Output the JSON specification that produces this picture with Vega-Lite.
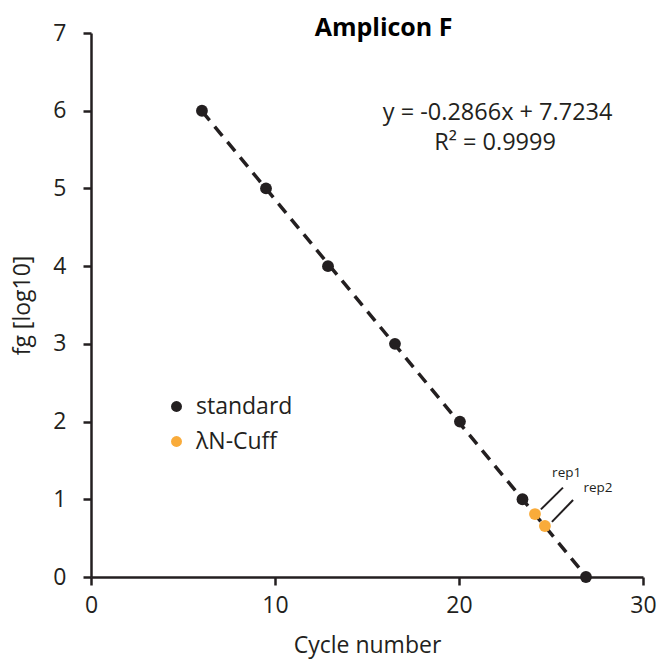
{
  "$schema": "https://vega.github.io/schema/vega-lite/v6.json",
  "autosize": {"type": "none"},
  "width": 552,
  "height": 544,
  "padding": {"left": 91, "top": 33, "right": 17, "bottom": 87},
  "background": "white",
  "config": {
    "view": {"stroke": null},
    "font": "Open Sans",
    "axis": {
      "grid": false,
      "domainColor": "#231f20",
      "domainWidth": 2.5,
      "tickColor": "#231f20",
      "tickWidth": 2.5,
      "tickSize": 8,
      "labelFont": "Open Sans",
      "labelFontSize": 23,
      "labelColor": "#231f20",
      "labelFlush": false,
      "labelOverlap": false,
      "titleFont": "Open Sans",
      "titleFontSize": 23,
      "titleFontWeight": "normal",
      "titleColor": "#231f20"
    }
  },
  "datasets": {
    "points": [
      {"cycle": 6.03, "fg": 6, "sample": "standard"},
      {"cycle": 9.51, "fg": 5, "sample": "standard"},
      {"cycle": 12.88, "fg": 4, "sample": "standard"},
      {"cycle": 16.52, "fg": 3, "sample": "standard"},
      {"cycle": 20.05, "fg": 2, "sample": "standard"},
      {"cycle": 23.45, "fg": 1, "sample": "standard"},
      {"cycle": 26.9, "fg": 0, "sample": "standard"},
      {"cycle": 24.13, "fg": 0.81, "sample": "λN-Cuff"},
      {"cycle": 24.67, "fg": 0.656, "sample": "λN-Cuff"}
    ],
    "leaders": [
      {"rep": "rep1", "x1": 24.45, "y1": 0.87, "x2": 25.65, "y2": 1.15, "tx": 25.85, "ty": 1.34},
      {"rep": "rep2", "x1": 25.05, "y1": 0.71, "x2": 26.2, "y2": 0.99, "tx": 27.55, "ty": 1.15}
    ]
  },
  "layer": [
    {
      "data": {"name": "points"},
      "transform": [
        {"filter": "datum.sample === 'standard'"},
        {"regression": "fg", "on": "cycle", "method": "linear", "extent": [6.03, 26.9]}
      ],
      "mark": {"type": "line", "color": "#231f20", "strokeWidth": 3.5, "strokeDash": [12, 8]},
      "encoding": {
        "x": {"field": "cycle", "type": "quantitative"},
        "y": {"field": "fg", "type": "quantitative"}
      }
    },
    {
      "data": {"name": "points"},
      "mark": {"type": "point", "filled": true, "opacity": 1, "size": 140},
      "encoding": {
        "x": {
          "field": "cycle", "type": "quantitative",
          "scale": {"domain": [0, 30], "nice": false, "zero": false},
          "axis": {"values": [0, 10, 20, 30], "format": "d", "title": "Cycle number", "labelPadding": 9, "titlePadding": 17}
        },
        "y": {
          "field": "fg", "type": "quantitative",
          "scale": {"domain": [0, 7], "nice": false},
          "axis": {"values": [0, 1, 2, 3, 4, 5, 6, 7], "format": "d", "title": "fg [log10]", "labelPadding": 17, "titlePadding": 18}
        },
        "color": {
          "field": "sample", "type": "nominal",
          "scale": {"domain": ["standard", "λN-Cuff"], "range": ["#231f20", "#f9ab3a"]},
          "legend": {
            "title": null,
            "orient": "none",
            "legendX": 74,
            "legendY": 362,
            "labelFontSize": 23,
            "labelFont": "Open Sans",
            "labelColor": "#231f20",
            "symbolType": "circle",
            "symbolSize": 120,
            "symbolStrokeWidth": 0,
            "labelOffset": 8,
            "rowPadding": 11
          }
        }
      }
    },
    {
      "data": {"name": "leaders"},
      "mark": {"type": "rule", "color": "#231f20", "strokeWidth": 2},
      "encoding": {
        "x": {"field": "x1", "type": "quantitative"},
        "y": {"field": "y1", "type": "quantitative"},
        "x2": {"field": "x2"},
        "y2": {"field": "y2"}
      }
    },
    {
      "data": {"name": "leaders"},
      "mark": {"type": "text", "fontSize": 13.5, "color": "#231f20", "font": "Open Sans"},
      "encoding": {
        "x": {"field": "tx", "type": "quantitative"},
        "y": {"field": "ty", "type": "quantitative"},
        "text": {"field": "rep"}
      }
    },
    {
      "data": {"values": [{"t": "y = -0.2866x + 7.7234", "x": 22.1, "y": 5.97}, {"t": "R² = 0.9999", "x": 21.96, "y": 5.58}]},
      "mark": {"type": "text", "fontSize": 23.5, "color": "#231f20", "font": "Open Sans"},
      "encoding": {
        "x": {"field": "x", "type": "quantitative"},
        "y": {"field": "y", "type": "quantitative"},
        "text": {"field": "t"}
      }
    },
    {
      "data": {"values": [{"t": "Amplicon F", "x": 15.9, "y": 7.07}]},
      "mark": {"type": "text", "fontSize": 25, "fontWeight": "bold", "color": "#000000", "font": "Open Sans"},
      "encoding": {
        "x": {"field": "x", "type": "quantitative"},
        "y": {"field": "y", "type": "quantitative"},
        "text": {"field": "t"}
      }
    }
  ]
}
